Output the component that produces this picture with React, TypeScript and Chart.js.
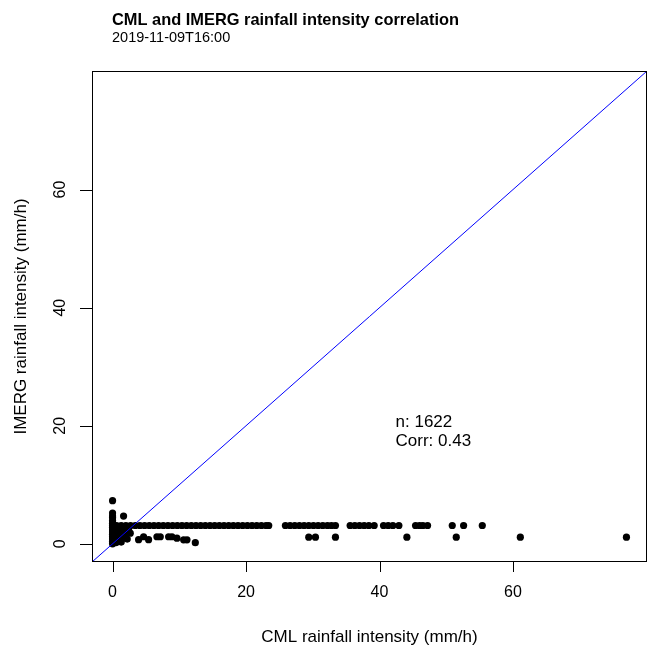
import React, { useEffect, useRef } from 'react';
import { Chart, registerables } from 'chart.js';

Chart.register(...registerables);

const titleText = 'CML and IMERG rainfall intensity correlation';
const subtitleText = '2019-11-09T16:00';
const xAxisTitle = 'CML rainfall intensity (mm/h)';
const yAxisTitle = 'IMERG rainfall intensity (mm/h)';
const statsLines = ['n: 1622', 'Corr: 0.43'];
const statsCml = 42.4;
const statsImerg = [19.8, 16.5];

const axisMin = -3.08;
const axisMax = 80.08;
const tickValues = [0, 20, 40, 60];

// main horizontal band of IMERG ~3.1 mm/h
const bandImerg = 3.1;
const bandCml = [
  0, 0.6, 1.3, 2.0, 2.7, 3.4, 4.1, 4.8, 5.5, 6.2, 6.9, 7.6, 8.3, 9.0, 9.7, 10.4,
  11.1, 11.8, 12.5, 13.2, 13.9, 14.6, 15.3, 16.0, 16.7, 17.4, 18.1, 18.8, 19.5,
  20.2, 20.9, 21.6, 22.3, 23.0, 23.4,
  25.9, 26.6, 27.3, 28.0, 28.7, 29.4, 30.1, 30.8, 31.5, 32.2, 32.8, 33.4,
  35.6, 36.3, 37.0, 37.7, 38.4, 39.2, 40.6, 41.3, 42.0, 42.9,
  45.4, 46.0, 46.5, 47.2,
  50.9, 52.6, 55.4,
];

// second row of IMERG ~1.1 mm/h
const lowRowImerg = 1.13;
const lowRowCml = [29.4, 30.4, 33.4, 44.1, 51.5, 61.1, 77.0];

// CML = 0 column
const zeroColumnImerg = [0, 0.4, 0.8, 1.2, 1.6, 2.0, 2.4, 2.8, 3.5, 3.9, 4.4, 4.7, 5.2, 7.3];

// scattered points near the origin
const clusterCml = [
  0.9, 1.9, 2.65, 1.4, 0.9, 0.5, 0.4, 0.6, 1.2, 0.3, 1.0, 1.5, 0.4, 1.3, 2.2,
  0.2, 0.7, 1.7, 2.0, 0.6, 1.1, 1.8, 2.4, 0.8, 1.6,
  3.9, 4.65, 5.4, 6.65, 7.15, 8.4, 8.9, 9.65, 10.65, 11.15, 12.4, 1.65,
];
const clusterImerg = [
  1.0, 1.5, 1.8, 2.1, 0.6, 0.2, 1.3, 2.2, 2.6, 2.6, 1.8, 0.9, 0.8, 0.3, 0.8,
  1.0, 1.6, 2.5, 2.0, 0.4, 0.6, 1.2, 2.5, 2.9, 2.8,
  0.7, 1.2, 0.7, 1.2, 1.2, 1.2, 1.2, 0.95, 0.67, 0.67, 0.2, 4.7,
];

const identityLine = [axisMin, axisMax];

const FONT = "'Liberation Sans', Arial, sans-serif";

const decorPlugin = {
  id: 'rDecor',
  afterDraw(chart: any) {
    const ctx = chart.ctx as CanvasRenderingContext2D;
    const area = chart.chartArea;
    const xs = chart.scales.x;
    const ys = chart.scales.y;
    ctx.save();
    // frame
    ctx.strokeStyle = '#000';
    ctx.lineWidth = 1;
    ctx.strokeRect(area.left + 0.5, area.top + 0.5, area.right - area.left - 1, area.bottom - area.top - 1);
    // ticks
    ctx.beginPath();
    tickValues.forEach((v) => {
      const px = Math.round(xs.getPixelForValue(v)) + 0.5;
      ctx.moveTo(px, area.bottom);
      ctx.lineTo(px, area.bottom + 10);
      const py = Math.round(ys.getPixelForValue(v)) + 0.5;
      ctx.moveTo(area.left, py);
      ctx.lineTo(area.left - 12, py);
    });
    ctx.stroke();
    // tick labels
    ctx.fillStyle = '#000';
    ctx.font = `16px ${FONT}`;
    ctx.textAlign = 'center';
    ctx.textBaseline = 'middle';
    tickValues.forEach((v) => {
      ctx.fillText(String(v), xs.getPixelForValue(v), area.bottom + 31);
    });
    tickValues.forEach((v) => {
      ctx.save();
      ctx.translate(area.left - 31, ys.getPixelForValue(v));
      ctx.rotate(-Math.PI / 2);
      ctx.fillText(String(v), 0, 0);
      ctx.restore();
    });
    // axis titles
    ctx.font = `17px ${FONT}`;
    ctx.fillText(xAxisTitle, (area.left + area.right) / 2, 637);
    ctx.save();
    ctx.translate(21.5, (area.top + area.bottom) / 2);
    ctx.rotate(-Math.PI / 2);
    ctx.fillText(yAxisTitle, 0, 0);
    ctx.restore();
    // title / subtitle
    ctx.textAlign = 'left';
    ctx.textBaseline = 'alphabetic';
    ctx.font = `bold 16.4px ${FONT}`;
    ctx.fillText(titleText, 112, 24.5);
    ctx.font = `14.5px ${FONT}`;
    ctx.fillText(subtitleText, 112, 42.3);
    // stats text
    ctx.font = `17px ${FONT}`;
    statsLines.forEach((t, i) => {
      ctx.fillText(t, xs.getPixelForValue(statsCml), ys.getPixelForValue(statsImerg[i]));
    });
    ctx.restore();
  },
};

const whiteBg = {
  id: 'whiteBg',
  beforeDraw(chart: any) {
    const ctx = chart.ctx;
    ctx.save();
    ctx.fillStyle = '#fff';
    ctx.fillRect(0, 0, chart.width, chart.height);
    ctx.restore();
  },
};

export default function App() {
  const ref = useRef<HTMLCanvasElement | null>(null);
  useEffect(() => {
    if (!ref.current) return;
    const points = [
      ...bandCml.map((x) => ({ x, y: bandImerg })),
      ...lowRowCml.map((x) => ({ x, y: lowRowImerg })),
      ...zeroColumnImerg.map((y) => ({ x: 0, y })),
      ...clusterCml.map((x, i) => ({ x, y: clusterImerg[i] })),
    ];
    const chart = new Chart(ref.current, {
      type: 'scatter',
      data: {
        datasets: [
          {
            type: 'line',
            data: identityLine.map((v) => ({ x: v, y: v })),
            borderColor: '#0000ff',
            borderWidth: 1,
            pointRadius: 0,
            fill: false,
            order: 0,
          } as any,
          {
            type: 'scatter',
            data: points,
            backgroundColor: '#000',
            borderWidth: 0,
            pointRadius: 3.6,
            pointHoverRadius: 3.6,
            order: 1,
          },
        ],
      },
      options: {
        responsive: false,
        animation: false,
        events: [],
        layout: { padding: { left: 92, right: 7, top: 71, bottom: 86 } },
        plugins: { legend: { display: false }, tooltip: { enabled: false }, title: { display: false } },
        scales: {
          x: { type: 'linear', min: axisMin, max: axisMax, display: false },
          y: { type: 'linear', min: axisMin, max: axisMax, display: false },
        },
      },
      plugins: [whiteBg, decorPlugin],
    });
    return () => chart.destroy();
  }, []);
  return (
    <div style={{ position: 'absolute', left: 0, top: 0, width: 654, height: 648, background: '#fff' }}>
      <canvas ref={ref} width={654} height={648} style={{ display: 'block' }} />
    </div>
  );
}
